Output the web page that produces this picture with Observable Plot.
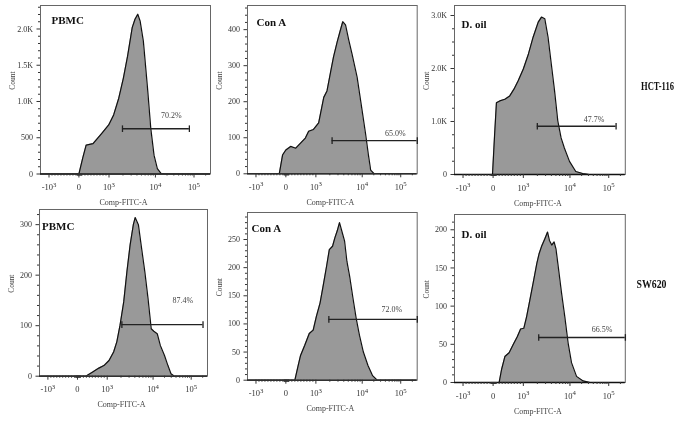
<!DOCTYPE html>
<html><head><meta charset="utf-8">
<script src="https://cdn.jsdelivr.net/npm/d3@7"></script>
<script src="https://cdn.jsdelivr.net/npm/@observablehq/plot@0.6"></script>
<style>
body{margin:0;background:#fff;}
#root{position:relative;width:676px;height:421px;overflow:hidden;background:#fff;}
#root svg{position:absolute;overflow:visible;will-change:transform;}
</style></head><body><div id="root"></div>
<script>
// ---------- DATA ----------
const panelTitles = ["PBMC", "Con A", "D. oil", "PBMC", "Con A", "D. oil"];
const cellLines = ["HCT-116", "SW620"];
const xAxisTitle = "Comp-FITC-A";
const yAxisTitle = "Count";
// x positions are in display decades: -1 = -10^3, 0 = 0, 1 = 10^3, 2 = 10^4, 3 = 10^5
const xTickValues = [-1, 0, 1, 2, 3];
const xTickLabels = ["-10^3", "0", "10^3", "10^4", "10^5"];

const hctPbmcX = [-1.25, 0.0, 0.13, 0.24, 0.47, 0.76, 0.99, 1.10, 1.21, 1.31, 1.40, 1.50, 1.56, 1.62, 1.67, 1.74, 1.83, 1.90, 1.97, 2.05, 2.15, 2.25, 3.5];
const hctPbmcY = [0, 0, 225, 398, 420, 560, 676, 815, 1045, 1323, 1625, 2018, 2135, 2204, 2111, 1833, 1185, 629, 260, 74, 5, 0, 0];
const hctConAX = [-1.25, -0.22, -0.11, 0, 0.16, 0.33, 0.49, 0.65, 0.76, 0.92, 1.06, 1.17, 1.24, 1.31, 1.38, 1.46, 1.53, 1.58, 1.64, 1.71, 1.78, 1.89, 2.00, 2.09, 2.16, 2.22, 2.31, 3.5];
const hctConAY = [0, 0, 52, 66, 76, 71, 85, 99, 118, 123, 141, 212, 230, 277, 324, 366, 399, 422, 413, 371, 333, 268, 174, 109, 53, 10, 0, 0];
const hctOilX = [-1.25, -0.02, 0.05, 0.11, 0.22, 0.39, 0.55, 0.69, 0.83, 1.0, 1.11, 1.21, 1.32, 1.39, 1.46, 1.53, 1.60, 1.67, 1.74, 1.81, 1.88, 1.99, 2.15, 2.33, 2.50, 3.5];
const hctOilY = [0, 0, 755, 1355, 1388, 1420, 1483, 1610, 1768, 1990, 2275, 2591, 2876, 2971, 2940, 2591, 2085, 1578, 1008, 690, 500, 247, 57, 19, 0, 0];
const swPbmcX = [-1.25, 0.28, 0.5, 0.72, 0.89, 1.04, 1.14, 1.21, 1.28, 1.36, 1.43, 1.50, 1.57, 1.61, 1.68, 1.75, 1.82, 1.89, 1.96, 2.02, 2.11, 2.19, 2.30, 2.39, 2.47, 2.56, 3.5];
const swPbmcY = [0, 0, 8, 16, 21, 31, 48, 68, 101, 147, 207, 260, 300, 314, 300, 253, 207, 154, 94, 89, 84, 61, 41, 21, 5, 0, 0];
const swConAX = [-1.25, 0.30, 0.41, 0.49, 0.63, 0.78, 0.91, 1.01, 1.09, 1.16, 1.23, 1.29, 1.36, 1.41, 1.46, 1.51, 1.57, 1.62, 1.67, 1.73, 1.80, 1.87, 1.94, 2.03, 2.15, 2.27, 2.39, 3.5];
const swConAY = [0, 0, 26, 44, 62, 83, 89, 113, 137, 169, 202, 232, 238, 253, 265, 280, 262, 247, 211, 184, 146, 110, 80, 50, 26, 8, 0, 0];
const swOilX = [-1.25, 0.20, 0.28, 0.39, 0.53, 0.67, 0.80, 0.91, 1.01, 1.07, 1.14, 1.21, 1.29, 1.34, 1.39, 1.46, 1.52, 1.56, 1.61, 1.66, 1.70, 1.75, 1.82, 1.89, 1.96, 2.04, 2.17, 2.34, 2.52, 3.5];
const swOilY = [0, 0, 17, 34, 39, 50, 60, 70, 71, 86, 108, 130, 156, 169, 178, 188, 197, 186, 180, 184, 175, 151, 117, 86, 52, 26, 8, 2, 0, 0];

const gatePercent = ["70.2%", "65.0%", "47.7%", "87.4%", "72.0%", "66.5%"];
const gateStart = [1.29, 1.35, 1.30, 1.32, 1.28, 1.33];
const gateEnd = [2.88, 3.43, 3.19, 3.31, 3.43, 3.43];
const gateLevel = [625, 92, 911, 102, 108, 59];
const pctX = [2.41, 2.86, 2.62, 2.78, 2.77, 2.83];
const pctY = [814, 113, 1038, 150, 126, 70];

const yMax = [2324, 467, 3189, 330, 298, 220];
const yMajorTicks = [[0, 500, 1000, 1500, 2000], [0, 100, 200, 300, 400], [0, 1000, 2000, 3000], [0, 100, 200, 300], [0, 50, 100, 150, 200, 250], [0, 50, 100, 150, 200]];
const yMinorStep = [100, 20, 250, 20, 10, 10];

// ---------- LAYOUT (not data) ----------
const frames = [
  {L: 40, T: 4.5, R: 210, B: 173, tdx: 11, tdy: 15},
  {L: 247, T: 5, R: 416.7, B: 173.3, tdx: 9, tdy: 16.7},
  {L: 453.5, T: 5, R: 624.3, B: 174, tdx: 7, tdy: 19},
  {L: 39.3, T: 209, R: 207.3, B: 375.7, tdx: 2.5, tdy: 16.7},
  {L: 247, T: 212.3, R: 416.7, B: 380, tdx: 4, tdy: 16},
  {L: 453.5, T: 213.5, R: 624.3, B: 381.5, tdx: 7, tdy: 20}
];
const tickFracs = [0.05, 0.226, 0.403, 0.676, 0.903];
const rowLabelPos = [{x: 641, y: 86, len: 33}, {x: 636.5, y: 284, len: 30}];

const xs = [hctPbmcX, hctConAX, hctOilX, swPbmcX, swConAX, swOilX];
const ys = [hctPbmcY, hctConAY, hctOilY, swPbmcY, swConAY, swOilY];

const xLabelMap = new Map(xTickValues.map((v, i) => [v, xTickLabels[i]]));
const xMinor = [
  ...d3.range(1, 10).map(m => -1 + m / 10),
  ...d3.range(-0.06, 0.1, 0.015),
  ...d3.range(1, 10).map(m => m / 10),
  ...d3.range(2, 10).map(m => 1 + Math.log10(m)),
  ...d3.range(2, 10).map(m => 2 + Math.log10(m)),
  3 + Math.log10(2)
];
const capSymbol = {draw(ctx, size) { const h = Math.sqrt(size / Math.PI); ctx.moveTo(0, -h); ctx.lineTo(0, h); }};
const fmtY = d => d >= 1000 ? (d / 1000).toFixed(1) + "K" : String(d);
const SERIF = "'Liberation Serif', 'Times New Roman', serif";
const root = document.getElementById("root");
const NS = "http://www.w3.org/2000/svg";

frames.forEach((f, i) => {
  const W = f.R - f.L, H = f.B - f.T;
  const mL = 40, mT = 5, mR = 6, mB = 35;
  const data = xs[i].map((x, j) => ({x, y: ys[i][j]}));
  const minorY = d3.range(0, yMax[i], yMinorStep[i]).filter(v => !yMajorTicks[i].includes(v));
  const gate = [{x1: gateStart[i], x2: gateEnd[i], y: gateLevel[i]}];
  const caps = [{x: gateStart[i], y: gateLevel[i]}, {x: gateEnd[i], y: gateLevel[i]}];
  const svg = Plot.plot({
    width: W + mL + mR, height: H + mT + mB,
    marginLeft: mL, marginTop: mT, marginRight: mR, marginBottom: mB,
    style: {fontFamily: SERIF, fontSize: "8px", background: "transparent", color: "#333"},
    x: {type: "linear", domain: xTickValues, range: tickFracs.map(t => mL + t * W), label: null},
    y: {domain: [0, yMax[i]], label: null},
    marks: [
      Plot.areaY(data, {x: "x", y: "y", fill: "#999999", clip: true}),
      Plot.lineY(data, {x: "x", y: "y", stroke: "#111", strokeWidth: 1.2, clip: true}),
      Plot.frame({stroke: "#666", strokeWidth: 1}),
      Plot.ruleY([0], {stroke: "#111", strokeWidth: 1.3}),
      Plot.axisY({ticks: yMajorTicks[i], tickSize: 3.5, tickPadding: 4, tickFormat: fmtY}),
      Plot.axisY({ticks: minorY, tickSize: 2, tickFormat: () => ""}),
      Plot.axisX({ticks: xTickValues, tickSize: 4, tickPadding: 6, tickFormat: d => xLabelMap.get(d), fontSize: 8.5}),
      Plot.axisX({ticks: xMinor, tickSize: 2, tickFormat: () => ""}),
      Plot.ruleY(gate, {y: "y", x1: "x1", x2: "x2", stroke: "#222", strokeWidth: 1.4, clip: true}),
      Plot.dot(caps, {x: "x", y: "y", symbol: capSymbol, r: 3.3, stroke: "#222", strokeWidth: 1.3, fill: "none"}),
      Plot.text([gatePercent[i]], {x: pctX[i], y: pctY[i], fontSize: 8, fill: "#444"}),
      Plot.text([panelTitles[i]], {frameAnchor: "top-left", dx: f.tdx, dy: f.tdy, textAnchor: "start", lineAnchor: "middle", fontWeight: "bold", fontSize: 11, fill: "#111"}),
      Plot.text([yAxisTitle], {frameAnchor: "left", dx: -28, rotate: -90, fontSize: 7.5, fill: "#444"}),
      Plot.text([xAxisTitle], {frameAnchor: "bottom", dx: -2, dy: 28.5, lineAnchor: "middle", fontSize: 8, fill: "#444"})
    ]
  });
  svg.querySelectorAll("text").forEach(t => {
    const s = t.textContent;
    if (s.includes("^")) {
      const [b, e] = s.split("^");
      t.textContent = b;
      const ts = document.createElementNS(NS, "tspan");
      ts.setAttribute("dy", "-0.5em");
      ts.setAttribute("font-size", "0.8em");
      ts.textContent = e;
      t.appendChild(ts);
    }
  });
  svg.style.left = (f.L - mL) + "px";
  svg.style.top = (f.T - mT) + "px";
  root.appendChild(svg);
});

// row labels (cell lines), horizontally condensed like the reference
const rowSvg = d3.select(root).append("svg")
  .attr("width", 676).attr("height", 421)
  .style("left", "0px").style("top", "0px");
const rowText = rowSvg.selectAll("text").data(cellLines).join("text")
  .attr("font-family", SERIF)
  .attr("font-weight", "bold")
  .attr("font-size", 12)
  .attr("fill", "#111")
  .attr("dy", "0.35em")
  .text(d => d);
rowText.each(function(d, i) {
  const natural = this.getComputedTextLength() || rowLabelPos[i].len;
  const sx = rowLabelPos[i].len / natural;
  d3.select(this).attr("transform", `translate(${rowLabelPos[i].x},${rowLabelPos[i].y}) scale(${sx},1)`);
});
</script></body></html>
